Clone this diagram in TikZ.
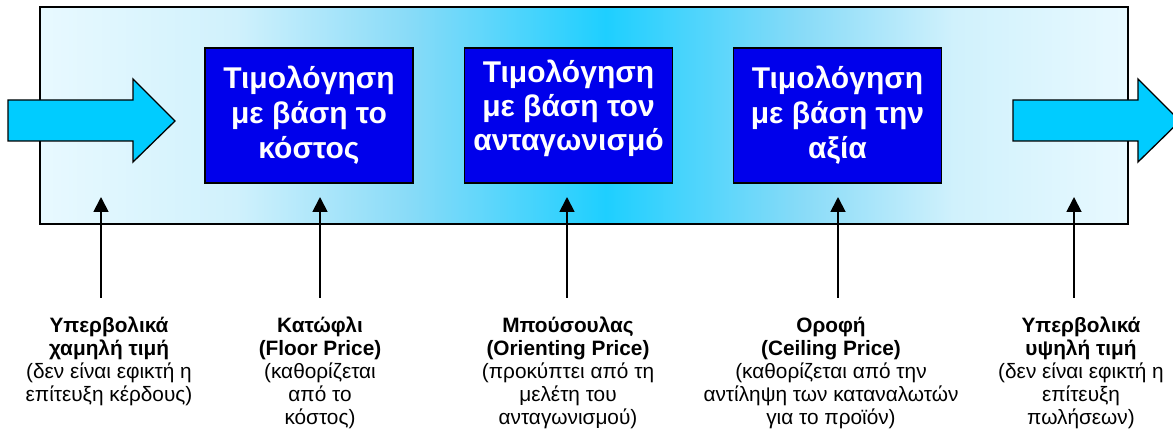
\documentclass[tikz,border=0pt]{standalone}
\usepackage{fontspec}
\setmainfont{Liberation Sans}
\usetikzlibrary{arrows.meta}
\definecolor{boxblue}{RGB}{0,0,235}
\definecolor{arrowcyan}{RGB}{0,204,255}
\definecolor{cA}{HTML}{E8F9FF}
\definecolor{cB}{HTML}{D0F1FC}
\definecolor{cC}{HTML}{88DBF8}
\definecolor{cD}{HTML}{1ECFFF}
\pgfdeclarehorizontalshading{bgshade}{100bp}{color(0bp)=(cA); color(25bp)=(cA); color(34bp)=(cB); color(42bp)=(cC); color(51bp)=(cD); color(60bp)=(cC); color(67bp)=(cB); color(75bp)=(cA); color(100bp)=(cA)}
\tikzset{
  panel/.style={draw=black, line width=1.5pt, shading=bgshade, inner sep=0pt, outer sep=0pt,
    minimum width=1088pt, minimum height=217pt},
  bigarrow/.style={draw=black, line width=1.3pt, fill=arrowcyan, line join=miter},
  pricebox/.style={draw=black, line width=1.5pt, fill=boxblue, text=white, align=center,
    minimum width=208pt, minimum height=135pt, inner sep=0pt,
    font=\fontsize{30}{35}\selectfont\bfseries},
  boxtext/.style={text=white, align=center, inner sep=0pt,
    font=\fontsize{30}{34}\selectfont\bfseries},
  label/.style={align=center, anchor=north, inner sep=0pt, font=\fontsize{20.8}{23}\selectfont},
  uparrow/.style={line width=1.8pt, -{Triangle[width=15pt,length=15pt]}}
}
\begin{document}
\begin{tikzpicture}[x=1pt,y=-1pt]
\useasboundingbox (0,0) rectangle (1173,438);
\node[panel] (panel) at (584,115.5) {};
% big arrows
\draw[bigarrow] (8,100) -- (133,100) -- (133,79) -- (175,121) -- (133,162) -- (133,141) -- (8,141) -- cycle;
\draw[bigarrow] (1013,100) -- (1138,100) -- (1138,79) -- (1180,121) -- (1138,162) -- (1138,141) -- (1013,141) -- cycle;
% boxes
\node[pricebox] (b1) at (309,115.5) {Τιμολόγηση\\με βάση το\\κόστος};
\node[pricebox] (b2) at (568.5,115.5) {};
\node[boxtext] (t2) at (568.5,108.5) {Τιμολόγηση\\με βάση τον\\ανταγωνισμό};
\node[pricebox] (b3) at (837.5,115.5) {Τιμολόγηση\\με βάση την\\αξία};
% labels
\node[label] (l1) at (109,316.5) {\textbf{Υπερβολικά}\\\textbf{χαμηλή τιμή}\\(δεν είναι εφικτή η\\επίτευξη κέρδους)};
\node[label] (l2) at (320,316.5) {\textbf{Κατώφλι}\\\textbf{(Floor Price)}\\(καθορίζεται\\από το\\κόστος)};
\node[label] (l3) at (568,316.5) {\textbf{Μπούσουλας}\\\textbf{(Orienting Price)}\\(προκύπτει από τη\\μελέτη του\\ανταγωνισμού)};
\node[label] (l4) at (831,316.5) {\textbf{Οροφή}\\\textbf{(Ceiling Price)}\\(καθορίζεται από την\\αντίληψη των καταναλωτών\\για το προϊόν)};
\node[label] (l5) at (1081,316.5) {\textbf{Υπερβολικά}\\\textbf{υψηλή τιμή}\\(δεν είναι εφικτή η\\επίτευξη\\πωλήσεων)};
% arrow end points
\coordinate (s1) at (101,298); \coordinate (e1) at (101,197);
\coordinate (s2) at (320,298); \coordinate (e2) at (320,197);
\coordinate (s3) at (567,298); \coordinate (e3) at (567,197);
\coordinate (s4) at (838,298); \coordinate (e4) at (838,197);
\coordinate (s5) at (1074,298); \coordinate (e5) at (1074,197);
\foreach \i in {1,...,5} \draw[uparrow] (s\i) -- (e\i);
\end{tikzpicture}
\end{document}
